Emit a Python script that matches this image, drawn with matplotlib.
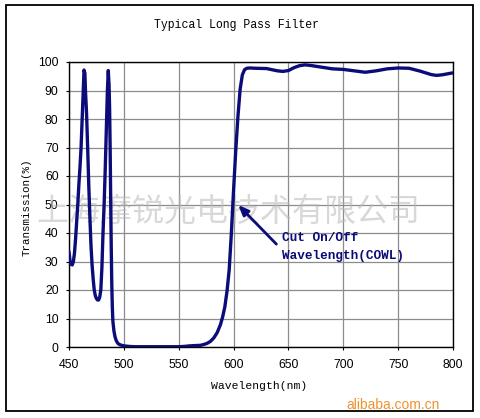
import matplotlib
matplotlib.use("Agg")
from matplotlib import pyplot as plt
from matplotlib.patches import Rectangle

# curve
wavelength = [450, 451, 452, 453, 454, 455, 456, 457, 458, 459, 460, 461, 462, 463,
              463.7, 464.5, 465, 466, 467, 468, 469, 470, 471, 472, 473, 474, 475,
              476, 477, 478, 479, 480, 481, 482, 483, 484, 485, 485.8, 486.5, 487,
              487.5, 488, 488.5, 489, 489.5, 490, 491, 492, 493, 494, 495, 497, 500,
              505, 510, 520, 530, 540, 550, 555, 560, 565, 570, 573, 576, 579, 582,
              585, 588, 590, 592, 594, 596, 598, 600, 602, 604, 606, 608, 610, 612,
              615, 620, 630, 640, 645, 650, 655, 660, 665, 670, 680, 690, 700, 710,
              720, 730, 740, 750, 760, 770, 780, 785, 790, 800]
transmission = [33.4, 30, 29, 28.8, 30, 33, 38, 44, 50, 57, 63, 70, 80, 90,
                97.2, 96, 90, 82, 70, 57, 46, 36, 29, 24, 20, 18, 17,
                16.5, 16.5, 17.5, 20, 28, 40, 50, 62, 76, 90, 97, 92, 84,
                70, 52, 35, 22, 14, 9, 5.5, 3.5, 2.3, 1.6, 1.1, 0.7, 0.4,
                0.2, 0.1, 0.1, 0.1, 0.1, 0.1, 0.2, 0.4, 0.5, 0.6, 0.9, 1.3, 2.0, 3.2,
                5.0, 7.8, 10.5, 14, 19.5, 27, 40, 55, 69, 81, 90.5, 95.5, 97.3, 97.8,
                97.9, 97.8, 97.7, 96.9, 96.7, 97.0, 98.0, 98.7, 99.0, 98.8, 98.2, 97.6, 97.4, 96.9,
                96.4, 96.9, 97.6, 97.9, 97.8, 96.8, 95.6, 95.3, 95.5, 96.2]

x_ticks = [450, 500, 550, 600, 650, 700, 750, 800]
y_ticks = [0, 10, 20, 30, 40, 50, 60, 70, 80, 90, 100]

W, H = 480, 418
navy = "#0b0b7a"
mono = "Liberation Mono"

fig = plt.figure(figsize=(4.8, 4.18), dpi=100)
ax = fig.add_axes([69 / W, 1 - 347 / H, 384 / W, 285 / H])

ax.plot(wavelength, transmission, color=navy, lw=2.4, zorder=4,
        solid_joinstyle="round", solid_capstyle="round")
ax.set_xlim(450, 800)
ax.set_ylim(0, 100)
ax.set_xticks(x_ticks)
ax.set_yticks(y_ticks)
ax.grid(True, color="#8c8c8c", lw=0.9, zorder=1)
ax.set_axisbelow(True)
for sp in ax.spines.values():
    sp.set_color("black")
    sp.set_linewidth(1.0)
ax.tick_params(length=2.5, width=0.8, direction="out", labelsize=8.8)
ax.tick_params(axis="x", pad=6)
ax.tick_params(axis="y", pad=5)
for lab in ax.get_xticklabels() + ax.get_yticklabels():
    lab.set_fontfamily("Liberation Sans")

# watermark
ax.text(0.415, 0.475, "上海摩锐光电技术有限公司", transform=ax.transAxes,
        family=["Noto Sans CJK SC", "DejaVu Sans"], fontsize=23, color="#b8b8b8",
        alpha=0.55, ha="center", va="center", zorder=3)

# annotation
ax.annotate("", xy=(602.5, 50.5), xytext=(640.8, 35.4),
            arrowprops=dict(arrowstyle="-|>,head_length=0.6,head_width=0.25",
                            color=navy, lw=2), zorder=5)
ax.text(644, 38.1, "Cut On/Off", family=mono, weight="bold", fontsize=9.2,
        color=navy, ha="left", va="center", zorder=5)
ax.text(644, 32.1, "Wavelength(COWL)", family=mono, weight="bold", fontsize=9.2,
        color=navy, ha="left", va="center", zorder=5)

fig.text(237 / W, 1 - 25 / H, "Typical Long Pass Filter", family=mono,
         fontsize=8.3, ha="center", va="center")
fig.text(259 / W, 1 - 386 / H, "Wavelength(nm)", family=mono,
         fontsize=8.2, ha="center", va="center")
fig.text(27 / W, 1 - 207 / H, "Transmission(%)", family=mono,
         fontsize=7.8, ha="center", va="center", rotation=90)
fig.text(440 / W, 1 - 405 / H, "alibaba.com.cn", family="Liberation Sans",
         fontsize=10, color="#f0922e", ha="right", va="center")

fig.patches.append(Rectangle((5.5 / W, 1 - 411 / H), 467 / W, 406 / H,
                             transform=fig.transFigure, fill=False,
                             edgecolor="black", lw=1.3))

fig.savefig("out.png", dpi=100)
